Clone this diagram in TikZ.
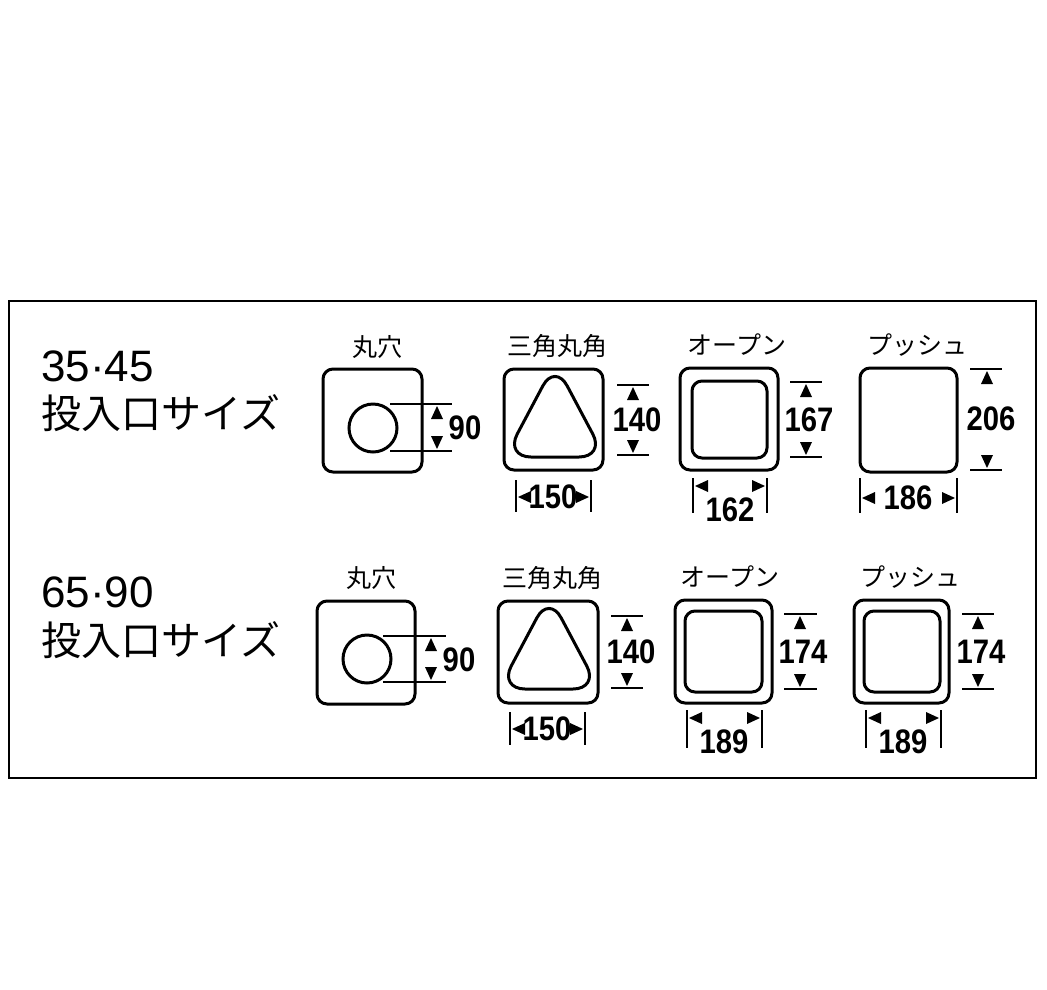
\documentclass[tikz,border=0pt]{standalone}
\usepackage{fontspec}
\newfontfamily\jp{Noto Sans CJK JP}
\newfontfamily\num{Liberation Sans}
\begin{document}
\begin{tikzpicture}[x=1pt,y=-1pt,
  box/.style={line width=3pt,rounded corners=10pt},
  ext/.style={line width=1.6pt},
  tri/.style={line width=3pt,rounded corners=26pt},
  lab/.style={font=\jp\fontsize{25}{27}\selectfont,inner sep=0},
  big/.style={font=\jp\fontsize{40}{44}\selectfont,inner sep=0,anchor=west},
  bign/.style={font=\num\fontsize{44}{46}\selectfont,inner sep=0,anchor=west},
  dim/.style={font=\num\bfseries\fontsize{34}{36}\selectfont,inner sep=0,xscale=0.86}]
\useasboundingbox (0,0) rectangle (1047,989);
\fill[white] (0,0) rectangle (1047,989);
\draw[line width=1.8pt] (9,301) rectangle (1036,778);
\newcommand\upA[2]{\fill (#1,#2) -- (#1-6,#2+13) -- (#1+6,#2+13) -- cycle;}
\newcommand\dnA[2]{\fill (#1,#2) -- (#1-6,#2-13) -- (#1+6,#2-13) -- cycle;}
\newcommand\lfA[2]{\fill (#1,#2) -- (#1+13,#2-6) -- (#1+13,#2+6) -- cycle;}
\newcommand\rtA[2]{\fill (#1,#2) -- (#1-13,#2-6) -- (#1-13,#2+6) -- cycle;}
\newcommand\vdim[5]{\draw[ext] (#1,#3) -- (#2,#3) (#1,#4) -- (#2,#4); \upA{#5}{#3+2} \dnA{#5}{#4-2}}
\newcommand\hdim[5]{\draw[ext] (#1,#3) -- (#1,#4) (#2,#3) -- (#2,#4); \lfA{#1+2}{#5} \rtA{#2-2}{#5}}

% ---------- Row 1
\node[bign] (t1) at (41,366) {35·45};
\node[big] (s1) at (41,413) {投入口サイズ};
\node[lab] (l11) at (377,347) {丸穴};
\draw[box] (323,369) rectangle (422,472);
\draw[line width=3pt] (373,428) circle (24);
\vdim{390}{452}{404}{451}{437}
\node[dim] (n11) at (465,428) {90};

\node[lab] (l12) at (557,346) {三角丸角};
\draw[box] (504,369) rectangle (603,470);
\draw[tri] (555,363) -- (605,457) -- (505,457) -- cycle;
\vdim{617}{649}{385}{455}{633}
\node[dim] (n12) at (637,420) {140};
\hdim{516}{591}{480}{512}{497}
\node[dim] (n13) at (553,497) {150};

\node[lab] (l13) at (737,345) {オープン};
\draw[box] (680,368) rectangle (778,470);
\draw[box] (692,381) rectangle (767,458);
\vdim{790}{822}{382}{457}{806}
\node[dim] (n14) at (809,420) {167};
\hdim{693}{767}{478}{513}{486}
\node[dim] (n15) at (730,510) {162};

\node[lab] (l14) at (917,345) {プッシュ};
\draw[box] (860,368) rectangle (957,472);
\vdim{970}{1002}{369}{470}{987}
\node[dim] (n16) at (991,419) {206};
\hdim{860}{957}{478}{513}{498}
\node[dim] (n17) at (908,498) {186};

% ---------- Row 2
\node[bign] (t2) at (41,592) {65·90};
\node[big] (s2) at (41,640) {投入口サイズ};
\node[lab] (l21) at (371,578) {丸穴};
\draw[box] (317,601) rectangle (415,704);
\draw[line width=3pt] (367,659) circle (24);
\vdim{383}{446}{636}{682}{431}
\node[dim] (n21) at (459,660) {90};

\node[lab] (l22) at (552,578) {三角丸角};
\draw[box] (498,601) rectangle (598,703);
\draw[tri] (549,595) -- (599,689) -- (499,689) -- cycle;
\vdim{611}{643}{616}{688}{627}
\node[dim] (n22) at (631,652) {140};
\hdim{510}{585}{712}{745}{729}
\node[dim] (n23) at (547,729) {150};

\node[lab] (l23) at (730,577) {オープン};
\draw[box] (675,600) rectangle (772,703);
\draw[box] (685,611) rectangle (762,692);
\vdim{784}{817}{614}{689}{800}
\node[dim] (n24) at (803,652) {174};
\hdim{687}{762}{710}{748}{718}
\node[dim] (n25) at (724,742) {189};

\node[lab] (l24) at (910,577) {プッシュ};
\draw[box] (854,600) rectangle (949,703);
\draw[box] (864,611) rectangle (940,692);
\vdim{962}{994}{614}{689}{978}
\node[dim] (n26) at (981,652) {174};
\hdim{866}{941}{710}{748}{718}
\node[dim] (n27) at (903,742) {189};
\end{tikzpicture}
\end{document}
